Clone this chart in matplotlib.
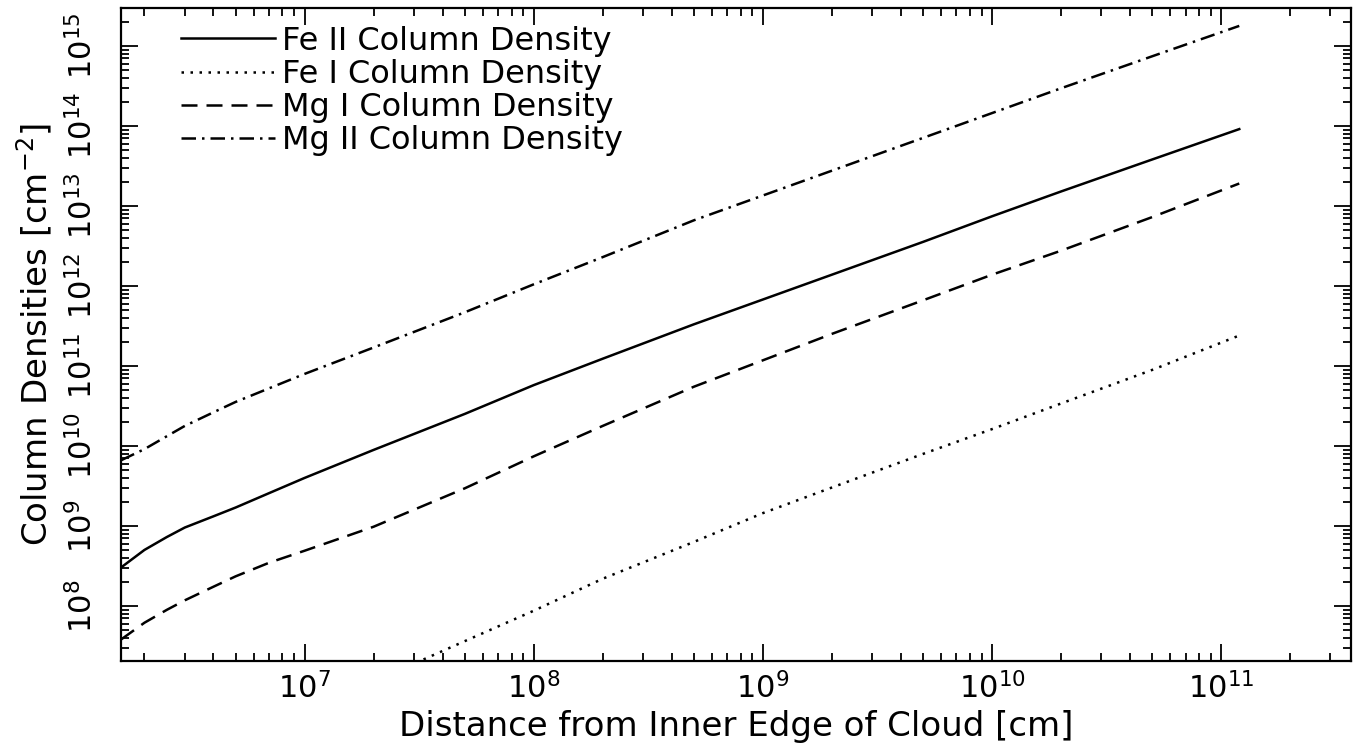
import numpy as np
import matplotlib
matplotlib.use("Agg")
import matplotlib.pyplot as plt
from matplotlib.ticker import LogLocator, LogFormatterSciNotation, NullFormatter

plt.rcParams['font.family'] = ['DejaVu Sans']
plt.rcParams['mathtext.fontset'] = 'dejavusans'

# distance from inner edge [cm]
dist = [1.58e6, 2e6, 2.5e6, 3e6, 4e6, 5e6, 7e6, 1e7, 2e7, 5e7, 1e8, 2e8, 5e8,
        1e9, 2e9, 5e9, 1e10, 2e10, 5e10, 1.2e11]
# log10 column densities
fe2_log = [8.48, 8.70, 8.86, 8.98, 9.12, 9.23, 9.41, 9.60, 9.95, 10.40, 10.76, 11.09, 11.52,
           11.83, 12.14, 12.55, 12.87, 13.18, 13.58, 13.96]
mg2_log = [9.82, 9.96, 10.12, 10.25, 10.42, 10.55, 10.72, 10.90, 11.23, 11.67, 12.02, 12.36, 12.82,
           13.13, 13.44, 13.85, 14.16, 14.47, 14.87, 15.25]
mg1_log = [7.58, 7.79, 7.95, 8.07, 8.24, 8.37, 8.54, 8.69, 8.99, 9.47, 9.87, 10.25, 10.74,
           11.07, 11.40, 11.82, 12.14, 12.44, 12.86, 13.28]
# Fe I only shows up above the bottom of the plot from ~3e7 cm
dist_fe1 = [2.8e7, 5e7, 1e8, 2e8, 5e8, 1e9, 2e9, 5e9, 1e10, 2e10, 5e10, 1.2e11]
fe1_log = [7.24, 7.56, 7.94, 8.34, 8.80, 9.16, 9.48, 9.90, 10.21, 10.53, 10.95, 11.38]

labels = ["Fe II Column Density", "Fe I Column Density",
          "Mg I Column Density", "Mg II Column Density"]

fig = plt.figure(figsize=(13.64, 7.55), dpi=100)
ax = fig.add_axes([0.0887, 0.1245, 0.902, 0.8645])

lw = 1.8
ax.plot(dist, 10**np.array(fe2_log), color='k', lw=lw, ls='-', label=labels[0])
ax.plot(dist_fe1, 10**np.array(fe1_log), color='k', lw=lw, ls=(0, (1, 2.6)), label=labels[1])
ax.plot(dist, 10**np.array(mg1_log), color='k', lw=lw, ls=(0, (6.4, 3.6)), label=labels[2])
ax.plot(dist, 10**np.array(mg2_log), color='k', lw=lw, ls=(0, (5.8, 2.4, 1, 2.4)), label=labels[3])

ax.set_xscale('log')
ax.set_yscale('log')
ax.set_xlim(1.58e6, 3.7e11)
ax.set_ylim(2.05e7, 2.95e15)

for axis in (ax.xaxis, ax.yaxis):
    axis.set_major_locator(LogLocator(base=10, numticks=20))
    axis.set_minor_locator(LogLocator(base=10, subs=np.arange(2, 10), numticks=20))
    axis.set_minor_formatter(NullFormatter())
    axis.set_major_formatter(LogFormatterSciNotation())

ax.tick_params(which='both', direction='in', top=True, right=True, width=1.3, colors='k')
ax.tick_params(which='major', length=12)
ax.tick_params(which='minor', length=6)
ax.tick_params(axis='x', which='major', labelsize=22, pad=8)
ax.tick_params(axis='y', which='major', labelsize=22, pad=16)
for s in ax.spines.values():
    s.set_linewidth(1.6)

ax.set_xlabel("Distance from Inner Edge of Cloud [cm]", fontsize=24.5, labelpad=4)
ax.set_ylabel("Column Densities [cm$^{-2}$]", fontsize=24.5, labelpad=9)

ax.legend(loc='upper left', bbox_to_anchor=(0.0487, 0.9735), frameon=False,
          fontsize=23, handlelength=2.95, handletextpad=0.22, labelspacing=0.07,
          borderpad=0, borderaxespad=0)

# rotated y labels like the original, hide labels of ticks outside the range
fig.canvas.draw()
ylo, yhi = ax.get_ylim()
for tick in ax.yaxis.get_major_ticks():
    tick.label1.set_rotation(90)
    tick.label1.set_va('center')
    if not (ylo <= tick.get_loc() <= yhi):
        tick.label1.set_visible(False)
xlo, xhi = ax.get_xlim()
for tick in ax.xaxis.get_major_ticks():
    if not (xlo <= tick.get_loc() <= xhi):
        tick.label1.set_visible(False)

fig.savefig("out.png", dpi=100)
